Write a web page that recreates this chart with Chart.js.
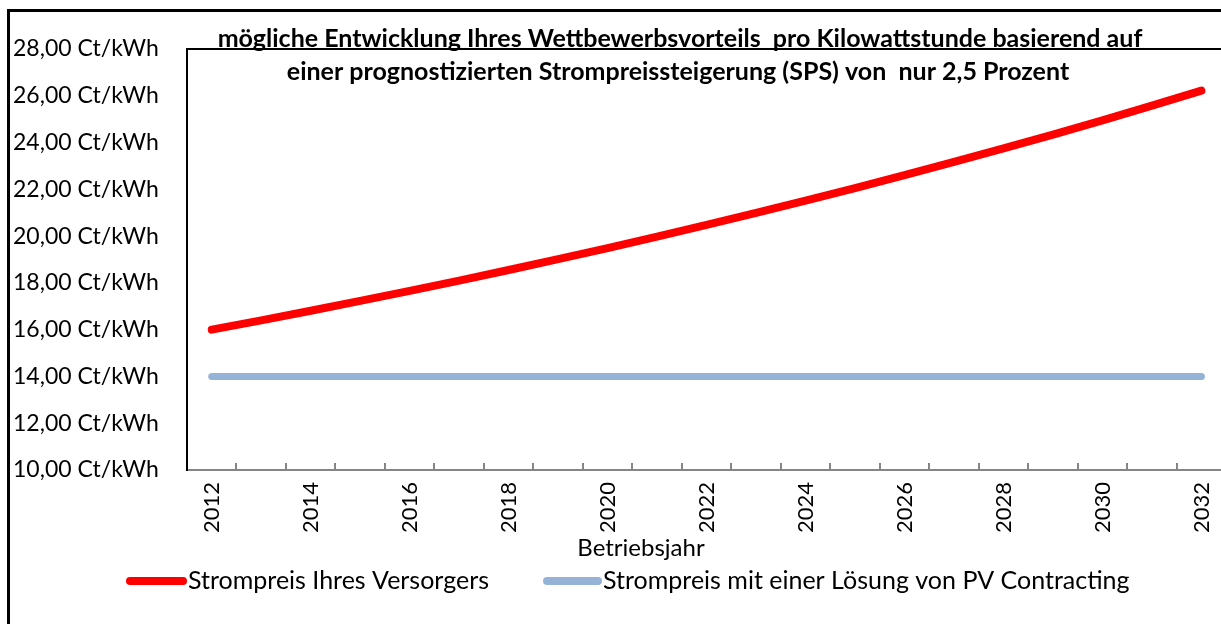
<!DOCTYPE html>
<html>
<head>
<meta charset="utf-8">
<script src="https://cdn.jsdelivr.net/npm/chart.js@4.4.1/dist/chart.umd.min.js"></script>
<style>
  html, body { margin: 0; padding: 0; background: #fff; overflow: hidden; }
  #wrap { position: absolute; left: 0; top: 0; width: 1240px; height: 624px; }
</style>
</head>
<body>
<div id="wrap"><canvas id="c" width="1240" height="624"></canvas></div>
<script>
const years = ['2012','2013','2014','2015','2016','2017','2018','2019','2020','2021','2022',
               '2023','2024','2025','2026','2027','2028','2029','2030','2031','2032'];
const versorgerPreis = [16.00,16.40,16.81,17.23,17.66,18.10,18.55,19.02,19.49,19.98,20.48,
                        20.99,21.52,22.05,22.61,23.17,23.75,24.34,24.95,25.58,26.22];
const pvPreis = [14.00,14.00,14.00,14.00,14.00,14.00,14.00,14.00,14.00,14.00,14.00,
                 14.00,14.00,14.00,14.00,14.00,14.00,14.00,14.00,14.00,14.00];
const seriesNames = ['Strompreis Ihres Versorgers', 'Strompreis mit einer Lösung von PV Contracting'];
const titleLines = ['mögliche Entwicklung Ihres Wettbewerbsvorteils  pro Kilowattstunde basierend auf',
                    'einer prognostizierten Strompreissteigerung (SPS) von  nur 2,5 Prozent'];
const xAxisTitle = 'Betriebsjahr';
const yUnit = ' Ct/kWh';
const yMin = 10, yMax = 28, yStep = 2;

const FONT = 'Lato, "Open Sans", sans-serif';

const decorPlugin = {
  id: 'decor',
  beforeDraw(chart) {
    const ctx = chart.ctx;
    ctx.save();
    ctx.fillStyle = '#fff';
    ctx.fillRect(0, 0, chart.width, chart.height);
    ctx.restore();
  },
  afterDraw(chart) {
    const ctx = chart.ctx;
    const a = chart.chartArea;
    const x = chart.scales.x;
    ctx.save();
    // outer frame
    ctx.strokeStyle = '#000';
    ctx.lineWidth = 3;
    ctx.beginPath();
    ctx.moveTo(8.5, chart.height + 5);
    ctx.lineTo(8.5, 10.5);
    ctx.lineTo(chart.width + 5, 10.5);
    ctx.stroke();
    // plot frame top
    ctx.lineWidth = 2;
    ctx.beginPath();
    ctx.moveTo(a.left - 1, a.top);
    ctx.lineTo(chart.width + 5, a.top);
    ctx.stroke();
    // inward tick marks between categories
    ctx.strokeStyle = '#868686';
    ctx.lineWidth = 2;
    const half = (x.getPixelForValue(1) - x.getPixelForValue(0)) / 2;
    ctx.beginPath();
    for (let i = 0; i < years.length; i++) {
      const px = Math.round(x.getPixelForValue(i) + half);
      ctx.moveTo(px, a.bottom);
      ctx.lineTo(px, a.bottom - 7);
    }
    ctx.stroke();
    // title
    ctx.fillStyle = '#000';
    ctx.font = 'bold 25px ' + FONT;
    ctx.textAlign = 'center';
    ctx.textBaseline = 'middle';
    ctx.fillText(titleLines[0], 680, 39);
    ctx.fillText(titleLines[1], 678, 72);
    // x axis title
    ctx.font = '24px ' + FONT;
    ctx.fillText(xAxisTitle, 641, 548);
    // legend
    ctx.font = '25px ' + FONT;
    const items = [{x1: 130, x2: 183}, {x1: 547, x2: 598}];
    chart.data.datasets.forEach((ds, i) => {
      const it = items[i];
      ctx.strokeStyle = ds.borderColor;
      ctx.lineWidth = 8;
      ctx.lineCap = 'round';
      ctx.beginPath();
      ctx.moveTo(it.x1, 581);
      ctx.lineTo(it.x2, 581);
      ctx.stroke();
      ctx.fillStyle = '#000';
      ctx.textAlign = 'left';
      ctx.fillText(ds.label, it.x2 + 5, 581);
    });
    ctx.restore();
  }
};

new Chart(document.getElementById('c'), {
  type: 'line',
  data: {
    labels: years,
    datasets: [
      { label: seriesNames[0], data: versorgerPreis, borderColor: '#FF0000', borderWidth: 8,
        borderCapStyle: 'round', pointRadius: 0, tension: 0, fill: false },
      { label: seriesNames[1], data: pvPreis, borderColor: '#95B3D7', borderWidth: 7,
        borderCapStyle: 'round', pointRadius: 0, tension: 0, fill: false }
    ]
  },
  options: {
    responsive: false,
    animation: false,
    layout: { padding: { left: 13, right: 8, top: 49, bottom: 0 } },
    plugins: { legend: { display: false }, title: { display: false }, tooltip: { enabled: false } },
    scales: {
      x: {
        type: 'category',
        offset: true,
        grid: { display: false, drawOnChartArea: false, drawTicks: false, offset: true },
        border: { display: true, color: '#868686', width: 2 },
        ticks: {
          autoSkip: false, minRotation: 90, maxRotation: 90, padding: 12,
          color: '#000', font: { family: FONT, size: 22 },
          callback: function(v, i) { return i % 2 === 0 ? this.getLabelForValue(v) : ''; }
        },
        afterFit(s) { s.height = 154; }
      },
      y: {
        min: yMin, max: yMax,
        grid: { display: false, drawOnChartArea: false, drawTicks: false },
        border: { display: true, color: '#000', width: 2 },
        ticks: {
          stepSize: yStep, crossAlign: 'far', padding: 0,
          color: '#000', font: { family: FONT, size: 23 },
          callback: (v) => v.toFixed(2).replace('.', ',') + yUnit
        },
        afterFit(s) { s.width = 174; }
      }
    }
  },
  plugins: [decorPlugin]
});
</script>
</body>
</html>
